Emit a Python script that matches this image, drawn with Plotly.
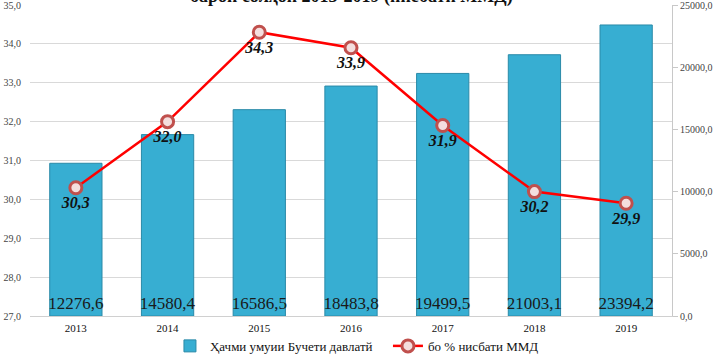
import plotly.graph_objects as go

years = ["2013", "2014", "2015", "2016", "2017", "2018", "2019"]
budget = [12276.6, 14580.4, 16586.5, 18483.8, 19499.5, 21003.1, 23394.2]
gdp_share = [30.3, 32.0, 34.3, 33.9, 31.9, 30.2, 29.9]

name_bar = "Ҳачми умуии Бучети давлатй"
name_line = "бо % нисбати ММД"
title_text = "барои солҳои 2013-2019 (нисбати ММД)"

serif = "Liberation Serif, Times New Roman, serif"

fig = go.Figure()
fig.add_trace(go.Bar(
    x=years, y=budget, name=name_bar, yaxis="y",
    marker=dict(color="#37aed2", line=dict(color="#2a8aa8", width=1)),
    texttemplate="%{y:.1f}", textposition="inside", insidetextanchor="start",
    textfont=dict(family=serif, size=17, color="#1a1a1a"),
    textangle=0,
))
fig.add_trace(go.Scatter(
    x=years, y=gdp_share, name=name_line, yaxis="y2",
    mode="lines+markers+text",
    line=dict(color="#ff0000", width=2.5),
    marker=dict(symbol="circle", size=12, color="#f4dede",
                line=dict(color="#c0504d", width=3)),
    texttemplate="<b><i>%{y:.1f}</i></b>", textposition="bottom center",
    textfont=dict(family=serif, size=16, color="#111111"),
))

fig.update_layout(
    width=719, height=355,
    margin=dict(l=30, r=47, t=5, b=39, autoexpand=False),
    paper_bgcolor="white", plot_bgcolor="white",
    separators=", ",
    bargap=0.43,
    showlegend=True,
    uniformtext=dict(minsize=17, mode="show"),
    legend=dict(orientation="h", x=0.218, xanchor="left",
                y=-0.048, yanchor="top",
                bgcolor="rgba(0,0,0,0)", entrywidth=173,
                font=dict(family=serif, size=13, color="#111111"),
                itemwidth=30, tracegroupgap=0),
    xaxis=dict(
        type="category", showgrid=False, showline=True, linecolor="#d0d0d0",
        tickfont=dict(family=serif, size=11, color="#111111"), ticks="",
        ticklabelstandoff=2, automargin=False,
    ),
    yaxis=dict(
        range=[0, 25000], side="right", tickvals=[0, 5000, 10000, 15000, 20000, 25000],
        tickformat=".1f", ticklabeloverflow="allow",
        showgrid=False, showline=True, linecolor="#c8c8c8", linewidth=1,
        ticks="outside", ticklen=5, tickcolor="#c8c8c8",
        tickfont=dict(family=serif, size=10, color="#444444"), zeroline=False,
        automargin=False,
    ),
    yaxis2=dict(
        range=[27, 35], side="left", overlaying="y",
        tickvals=[27, 28, 29, 30, 31, 32, 33, 34, 35], tickformat=".1f",
        ticklabeloverflow="allow",
        showgrid=True, gridcolor="#d9d9d9", gridwidth=1, zeroline=False,
        showline=False, ticks="", ticklabelstandoff=8,
        tickfont=dict(family=serif, size=10, color="#444444"),
        automargin=False,
    ),
    annotations=[dict(
        text=title_text, xref="paper", yref="paper", x=0.5, y=1.026,
        xanchor="center", yanchor="middle", showarrow=False,
        font=dict(family=serif, size=18, color="#111111", weight="bold"),
    )],
)

fig.write_html("out.html", config={"displayModeBar": False},
               post_script="document.body.style.margin='0';document.body.style.padding='0';")
